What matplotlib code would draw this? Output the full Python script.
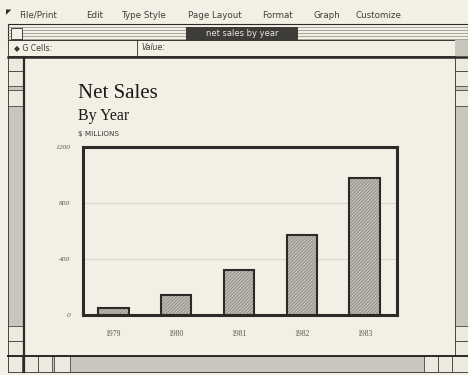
import matplotlib
matplotlib.use("Agg")
import matplotlib.pyplot as plt
from matplotlib.patches import Rectangle

# Net sales by year, $ millions
years = ["1979", "1980", "1981", "1982", "1983"]
net_sales = [50, 140, 320, 570, 980]
y_ticks = [0, 400, 800, 1200]
y_tick_labels = ["0", "400", "800", "1200"]
menu_items = ["File/Print", "Edit", "Type Style", "Page Layout", "Format", "Graph", "Customize"]

W, H = 468, 375
BG = "#f2f0e4"
INK = "#2b2a27"
GRAY = "#c9c7bd"

fig = plt.figure(figsize=(W / 100, H / 100), dpi=100, facecolor=BG)


def fx(x):
    return x / W


def fy(y):
    return 1 - y / H


def box(x0, y0, x1, y1, fc="none", ec=INK, lw=0.8, z=1, **kw):
    fig.add_artist(Rectangle((fx(x0), fy(y1)), fx(x1) - fx(x0), fy(y0) - fy(y1),
                             transform=fig.transFigure, facecolor=fc, edgecolor=ec,
                             linewidth=lw, zorder=z, **kw))


def hline(y, x0, x1, lw=0.8, color=INK, z=2):
    fig.add_artist(plt.Line2D([fx(x0), fx(x1)], [fy(y), fy(y)], transform=fig.transFigure,
                              color=color, linewidth=lw, zorder=z))


def vline(x, y0, y1, lw=0.8, color=INK, z=2):
    fig.add_artist(plt.Line2D([fx(x), fx(x)], [fy(y0), fy(y1)], transform=fig.transFigure,
                              color=color, linewidth=lw, zorder=z))


# --- window chrome -------------------------------------------------------
menu_x = [19, 86, 121, 188, 262, 313, 355]
for label, x in zip(menu_items, menu_x):
    fig.text(fx(x), fy(15), label, fontsize=6.3, color="#3f3e3a", va="center",
             family="DejaVu Sans")
fig.text(fx(6), fy(12), "\u25e4", fontsize=5, color=INK, va="center")

# title bar with stripes
for y in range(27, 40, 3):
    hline(y, 8, 468, lw=0.5, color="#8a8880", z=1.5)
box(8, 24, 468, 40, fc="none", ec=INK, lw=0.8)
box(11, 28, 22, 39, fc=BG, ec=INK, lw=0.6, z=3)
box(186, 27, 298, 40, fc="#3d3c38", ec="none", z=3)
fig.text(fx(242), fy(33.5), "net sales by year", fontsize=6, color="#e8e6da",
         ha="center", va="center", zorder=4)

# cell entry row
box(8, 40, 455, 56, fc=BG, ec=INK, lw=0.6, z=2)
box(455, 40, 468, 56, fc=GRAY, ec="none", z=2)
vline(137, 40, 56, lw=0.6, z=3)
fig.text(fx(14), fy(48), "\u25c6 G Cells:", fontsize=5.6, color="#3a3935", va="center")
fig.text(fx(141), fy(48), "Value:", fontsize=5.6, color="#3a3935", va="center",
         style="italic")
hline(57, 8, 468, lw=1.8, z=3)

# scroll bars
box(8, 57, 24, 356, fc=GRAY, ec=INK, lw=0.6)
box(455, 57, 468, 356, fc=GRAY, ec=INK, lw=0.6)
box(8, 356, 468, 372, fc=GRAY, ec=INK, lw=0.6)
for (x0, y0, x1, y1) in [(8, 57, 24, 71), (8, 71, 24, 86), (8, 90, 24, 106),
                         (8, 326, 24, 341), (8, 341, 24, 356),
                         (455, 57, 468, 71), (455, 71, 468, 86), (455, 90, 468, 106),
                         (455, 326, 468, 341), (455, 341, 468, 356),
                         (8, 356, 22, 372), (24, 356, 38, 372), (38, 356, 52, 372),
                         (54, 356, 70, 372), (424, 356, 438, 372), (438, 356, 452, 372),
                         (452, 356, 468, 372)]:
    box(x0, y0, x1, y1, fc="#ecEAdf", ec=INK, lw=0.5, z=2)
vline(24, 57, 372, lw=1.6)
hline(356, 8, 468, lw=1.4)

# --- chart titles --------------------------------------------------------
fig.text(fx(78), fy(94), "Net Sales", fontsize=15, family="Liberation Serif",
         color="#1a1917", va="center")
fig.text(fx(78), fy(116), "By Year", fontsize=11.5, family="Liberation Serif",
         color="#1a1917", va="center")
fig.text(fx(78), fy(134), "$ MILLIONS", fontsize=5.2, family="DejaVu Sans",
         color="#3a3935", va="center")

# --- bar chart -----------------------------------------------------------
ax = fig.add_axes([fx(83), fy(315), fx(397) - fx(83), fy(147) - fy(315)])
ax.set_facecolor(BG)
x = list(range(len(years)))
plt.rcParams["hatch.linewidth"] = 0.5
ax.bar(x, net_sales, width=0.48, color="#bebcb3", edgecolor="#85837c",
       hatch="//////////", linewidth=0, zorder=2)
ax.bar(x, net_sales, width=0.48, color="none", edgecolor=INK, linewidth=1.5, zorder=3)

ax.set_xlim(-0.486, 4.518)
ax.set_ylim(0, 1200)
ax.set_yticks(y_ticks)
ax.set_yticklabels(y_tick_labels, fontsize=5.4, style="italic", color="#5f5e58",
                   family="Liberation Serif")
ax.set_xticks(x)
ax.set_xticklabels(years, fontsize=5.5, color="#55544f", family="Liberation Serif")
ax.tick_params(axis="both", length=0)
ax.tick_params(axis="y", pad=9)
ax.tick_params(axis="x", pad=11)
for v in y_ticks[1:-1]:
    ax.axhline(v, color="#d9d7cc", linewidth=0.8, zorder=1)
for s in ax.spines.values():
    s.set_linewidth(2.2)
    s.set_color(INK)

fig.savefig("out.png", dpi=100, facecolor=BG)
